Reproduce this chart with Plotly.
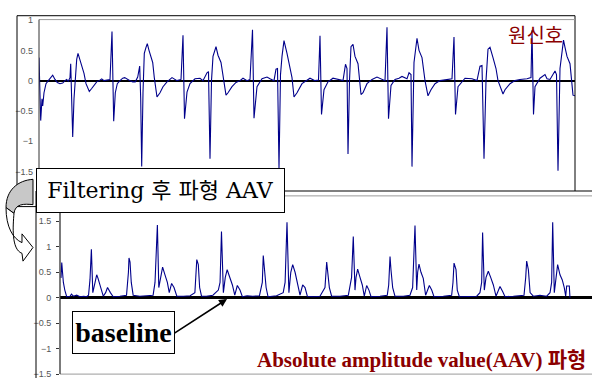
import plotly.graph_objects as go

W, H = 592, 383

# ---------------- data ----------------
# original signal (원신호): sample index, amplitude
sig_t = [0, 1.7, 3, 3.7, 5, 7, 9.3, 11.7, 13.7, 16, 18.3, 21, 23.7, 26, 27.7, 29.3, 31, 31.7, 32.7, 33.7,
         35, 36.3, 37.7, 39, 41, 43, 45, 47, 50.3, 52.7, 55, 57.7, 60.3, 62.7, 65, 67.7, 71, 73, 74.7, 76.3,
         78.3, 81, 83.7, 85.7, 88.3, 91, 93.7, 96.3, 98.7, 100.7, 101.7, 102.7, 104, 105.3, 107, 108.3, 110,
         111.7, 113.7, 115.3, 118, 121, 124, 128, 133, 138, 142, 144, 145.5, 148, 151, 156, 161, 164, 168,
         169.5, 171, 172.5, 174, 177, 179, 182, 184, 187, 189, 193, 197, 201, 204, 208, 211, 213.5, 215, 218,
         223, 228, 231, 235, 237, 238.5, 240, 241.5, 243, 245, 248, 250, 253, 255, 258, 263, 268, 271, 276,
         279.5, 281, 282.5, 285, 289, 294, 299, 304, 306.5, 308, 309, 310.5, 312, 314, 316, 319, 322, 324,
         328, 333, 338, 343, 346, 348, 349.5, 352, 356, 360, 363, 368, 370, 372, 373, 375, 378, 380, 383,
         386, 389, 392, 396, 401, 408, 413, 415, 416.5, 419, 426, 433, 438, 441, 443, 445, 447, 449, 451,
         454, 457, 459, 464, 466, 471, 476, 481, 488, 492, 493, 494.5, 496, 501, 506, 508, 511, 516, 517.5,
         519, 521, 523, 524.5, 526, 528, 531, 534, 536]
sig_v = [0.38, -0.66, -0.3, -0.42, -0.2, -0.05, 0.0, 0.06, 0.09, 0.02, -0.03, -0.05, -0.04, 0.0, 0.02, -0.01,
         0.05, 0.28, -0.2, -0.93, -0.3, 0.1, 0.35, 0.45, 0.33, 0.22, 0.12, -0.05, -0.18, -0.13, -0.08, -0.02,
         0.0, 0.03, 0.0, 0.01, 0.02, 0.81, -0.67, -0.2, -0.05, 0.0, 0.04, 0.05, 0.02, 0.0, -0.02, -0.02, 0.06,
         0.24, -0.3, -1.42, -0.2, 0.45, 0.55, 0.61, 0.5, 0.42, 0.3, 0.05, -0.27, -0.2, -0.1, -0.02, 0.05, 0.0,
         0.02, 0.75, -0.63, -0.19, -0.05, 0.03, 0.04, 0.0, 0.13, 0.15, -1.29, 0.0, 0.4, 0.56, 0.42, 0.3, 0.1,
         -0.24, -0.2, -0.1, -0.03, 0.0, 0.04, 0.0, 0.02, 0.84, -0.62, -0.1, 0.03, 0.06, 0.03, 0.0, 0.19, 0.2,
         -1.45, 0.1, 0.4, 0.66, 0.45, 0.3, 0.05, -0.27, -0.2, -0.05, 0.0, 0.04, 0.0, 0.01, 0.74, -0.56, -0.15,
         -0.02, 0.04, 0.02, 0.0, 0.27, 0.2, -1.21, 0.0, 0.56, 0.6, 0.4, 0.28, -0.23, -0.2, -0.05, 0.02, 0.06,
         0.02, 0.0, 0.88, -0.63, -0.08, 0.02, 0.04, 0.07, 0.03, 0.13, 0.1, -1.42, 0.3, 0.7, 0.5, 0.38, 0.0,
         -0.25, -0.15, -0.05, 0.0, 0.02, 0.03, 0.72, -0.56, -0.1, 0.04, 0.03, 0.0, 0.24, 0.25, -1.29, 0.0,
         0.52, 0.55, 0.38, 0.2, 0.0, -0.22, -0.15, -0.05, 0.0, 0.02, 0.03, 0.05, 0.83, -0.56, -0.1, 0.04, 0.1,
         0.03, 0.02, 0.16, 0.1, -1.49, 0.2, 0.51, 0.67, 0.55, 0.4, 0.28, -0.24, -0.25]

# absolute amplitude value (AAV) after filtering
aav_t = [0, 0.8, 1.6, 2.5, 4, 6, 9.5, 11, 13, 16.5, 20, 24, 27, 29, 30.5, 32, 33.5, 36, 37.6, 39, 42, 44.5,
         47, 49, 52, 55, 62, 69, 71, 71.6, 72.7, 74, 76, 83, 90, 97, 99, 101.5, 103, 105, 107, 109.5, 112,
         114, 116.5, 119, 122, 129, 136, 141, 143, 144.6, 146, 148, 153, 160, 165.7, 167.5, 169, 171, 173,
         175, 178, 180.5, 183, 185.7, 188.5, 191, 196, 202, 209, 212, 213, 214, 216, 218, 227, 234, 236, 238,
         240, 242, 244, 246.5, 249, 251.7, 254.5, 257, 259.4, 265.7, 272.7, 278, 279.8, 280.8, 282.6, 285,
         293.8, 302.6, 304.3, 306, 307.8, 309.6, 310.7, 312.4, 314.9, 317.3, 319.4, 321.9, 324.3, 326.5,
         335.9, 343.6, 345.1, 346.5, 347.5, 349.3, 351.7, 360.5, 367.5, 370.3, 372.8, 374.6, 375.6, 377,
         379.1, 381.5, 384, 387.9, 390.4, 392.8, 402.6, 411.4, 412.8, 413.9, 416, 417.3, 419.5, 428.9, 437.8,
         441.2, 443, 444, 445.8, 447.6, 450, 452.5, 455.3, 458.1, 462.3, 465.1, 467.6, 476.3, 483.4, 487.6,
         489.4, 490.4, 492.2, 494, 497.4, 504.4, 511.5, 515, 516.7, 517.8, 519.5, 521.3, 523, 525.5, 527.9,
         530, 531.5, 532.5, 535.3, 536]
aav_v = [0.39, 0.69, 0.5, 0.3, 0.15, 0.02, 0.03, 0.07, 0.03, 0.05, 0.02, 0.03, 0.02, 0.05, 0.35, 0.95, 0.1,
         0.3, 0.45, 0.38, 0.2, 0.03, 0.1, 0.2, 0.1, 0.02, 0.03, 0.05, 0.5, 0.78, 0.7, 0.3, 0.05, 0.03, 0.04,
         0.05, 0.3, 1.43, 0.2, 0.4, 0.6, 0.45, 0.3, 0.1, 0.28, 0.2, 0.03, 0.03, 0.04, 0.1, 0.75, 0.65, 0.2,
         0.03, 0.03, 0.05, 0.15, 0.3, 1.3, 0.1, 0.4, 0.55, 0.4, 0.25, 0.05, 0.24, 0.15, 0.02, 0.04, 0.03, 0.04,
         0.3, 0.83, 0.6, 0.2, 0.02, 0.04, 0.1, 0.3, 1.48, 0.1, 0.5, 0.65, 0.5, 0.3, 0.05, 0.25, 0.2, 0.03,
         0.02, 0.03, 0.2, 0.7, 0.55, 0.2, 0.03, 0.03, 0.05, 0.2, 0.4, 1.2, 0.15, 0.4, 0.56, 0.4, 0.25, 0.03,
         0.24, 0.15, 0.02, 0.03, 0.05, 0.25, 0.81, 0.55, 0.2, 0.03, 0.03, 0.05, 0.2, 1.42, 0.15, 0.5, 0.66,
         0.5, 0.38, 0.05, 0.24, 0.15, 0.02, 0.03, 0.05, 0.3, 0.68, 0.55, 0.15, 0.02, 0.03, 0.03, 0.1, 0.3,
         1.28, 0.15, 0.4, 0.52, 0.4, 0.25, 0.03, 0.22, 0.12, 0.02, 0.03, 0.04, 0.05, 0.4, 0.72, 0.55, 0.1,
         0.03, 0.05, 0.03, 0.1, 0.3, 1.48, 0.1, 0.45, 0.65, 0.45, 0.35, 0.2, 0.03, 0.23, 0.23, 0.0]

sig_ticks = [-2, -1.5, -1, -0.5, 0, 0.5, 1]
sig_ticktext = ["−2", "−1.5", "−1", "−0.5", "0", "0.5", "1"]
aav_ticks = [-1.5, -1, -0.5, 0, 0.5, 1, 1.5]
aav_ticktext = ["−1.5", "−1", "−0.5", "0", "0.5", "1", "1.5"]

# ---------------- helpers (pixel -> paper) ----------------
def px(x):
    return x / W

def py(y):
    return 1 - y / H

def pline(x0, y0, x1, y1, color="black", width=1):
    return dict(type="line", xref="paper", yref="paper", x0=px(x0), y0=py(y0), x1=px(x1), y1=py(y1),
                line=dict(color=color, width=width), layer="above")

def ppath(cmds, fill, color="black", width=1):
    parts = []
    for c in cmds:
        if isinstance(c, str):
            parts.append(c)
        else:
            parts.append(f"{px(c[0]):.5f},{py(c[1]):.5f}")
    return dict(type="path", xref="paper", yref="paper", path=" ".join(parts),
                fillcolor=fill, line=dict(color=color, width=width), layer="above")

fig = go.Figure()
fig.add_trace(go.Scatter(x=sig_t, y=sig_v, mode="lines", line=dict(color="#00008B", width=1.1),
                         xaxis="x", yaxis="y", hoverinfo="skip"))
fig.add_trace(go.Scatter(x=aav_t, y=aav_v, mode="lines", line=dict(color="#00008B", width=1.1),
                         xaxis="x2", yaxis="y2", hoverinfo="skip"))

tickfont = dict(family="Liberation Sans, Arial, sans-serif", size=9, color="#555555")

shapes = [
    # top panel frame
    pline(17, 11, 575, 11), pline(17, 11, 17, 207), pline(17, 207, 36, 207), pline(575, 11, 575, 191),
    pline(39, 15, 575, 15, "#9a9a9a"), pline(39, 15, 39, 202, "#333333"),
    # bottom panel frame
    pline(36, 191, 592, 191, "black", 1.2), pline(36, 191, 36, 383),
    pline(60, 196, 592, 196, "#9a9a9a"), pline(60, 379, 592, 379, "#9a9a9a"),
    pline(60, 196, 60, 379, "#333333", 1.3),
    # curved arrow (grey back + white front)
    ppath(["M", (33, 179), "C", (18, 180), (6, 190), (6, 208), "L", (14, 214), "C", (15, 204), (24, 204),
           (33, 205), "Z"], "#c8c8c8"),
    ppath(["M", (6, 208), "C", (6, 228), (13, 240), (22, 244), "L", (22, 235), "L", (33, 249), "L", (23, 263),
           "L", (22, 255), "C", (11, 251), (13, 226), (14, 214), "Z"], "white"),
]

annotations = [
    dict(text="Filtering 후 파형 AAV", xref="paper", yref="paper", x=px(160.5), y=py(190.5),
         xanchor="center", yanchor="middle", showarrow=False, width=247, height=43, borderpad=0,
         bgcolor="white", bordercolor="black", borderwidth=1,
         font=dict(family="DejaVu Serif, Noto Sans CJK KR, serif", size=22, color="black")),
    dict(text="<b>baseline</b>", xref="paper", yref="paper", x=px(123.5), y=py(336.5),
         xanchor="center", yanchor="middle", showarrow=False, width=101, height=41, borderpad=0,
         bgcolor="white", bordercolor="black", borderwidth=1,
         font=dict(family="Liberation Serif, serif", size=28, color="black")),
    dict(text="", xref="paper", yref="paper", x=px(227), y=py(302), ax=-54, ay=35,
         showarrow=True, arrowhead=2, arrowsize=1, arrowwidth=1.6, arrowcolor="black"),
    dict(text="원신호", xref="paper", yref="paper", x=px(535.5), y=py(30), xanchor="center",
         yanchor="middle", showarrow=False,
         font=dict(family="Noto Sans CJK KR, sans-serif", size=20, color="#8B0000")),
    dict(text="<b>Absolute amplitude value(AAV) 파형</b>", xref="paper", yref="paper", x=px(421.5),
         y=py(365), xanchor="center", yanchor="middle", showarrow=False,
         font=dict(family="Liberation Serif, Noto Sans CJK KR, serif", size=21, color="#8B0000")),
]

fig.update_layout(
    width=W, height=H, margin=dict(l=0, r=0, t=0, b=0),
    paper_bgcolor="white", plot_bgcolor="rgba(0,0,0,0)", showlegend=False,
    xaxis=dict(domain=[px(39), px(575)], range=[0, 536], visible=False, fixedrange=True),
    yaxis=dict(domain=[py(202), py(15.5)], range=[-2, 1], tickvals=sig_ticks, ticktext=sig_ticktext,
               tickfont=tickfont, showgrid=False, showline=False, ticks="", zeroline=True,
               zerolinecolor="black", zerolinewidth=2, ticklabelstandoff=5, anchor="x", fixedrange=True),
    xaxis2=dict(domain=[px(60), 1], range=[-1.05, 559.2], visible=False, fixedrange=True, anchor="y2"),
    yaxis2=dict(domain=[py(379), py(196)], range=[-1.5, 2], tickvals=aav_ticks, ticktext=aav_ticktext,
                tickfont=tickfont, showgrid=False, showline=False, ticks="outside", ticklen=3,
                tickcolor="#333333", zeroline=True, zerolinecolor="black", zerolinewidth=2.5,
                ticklabelstandoff=3, anchor="x2", fixedrange=True),
    shapes=shapes, annotations=annotations,
)

fig.write_html("out.html", config={"displayModeBar": False, "staticPlot": True},
               post_script="document.body.style.margin='0';document.body.style.overflow='hidden';")
